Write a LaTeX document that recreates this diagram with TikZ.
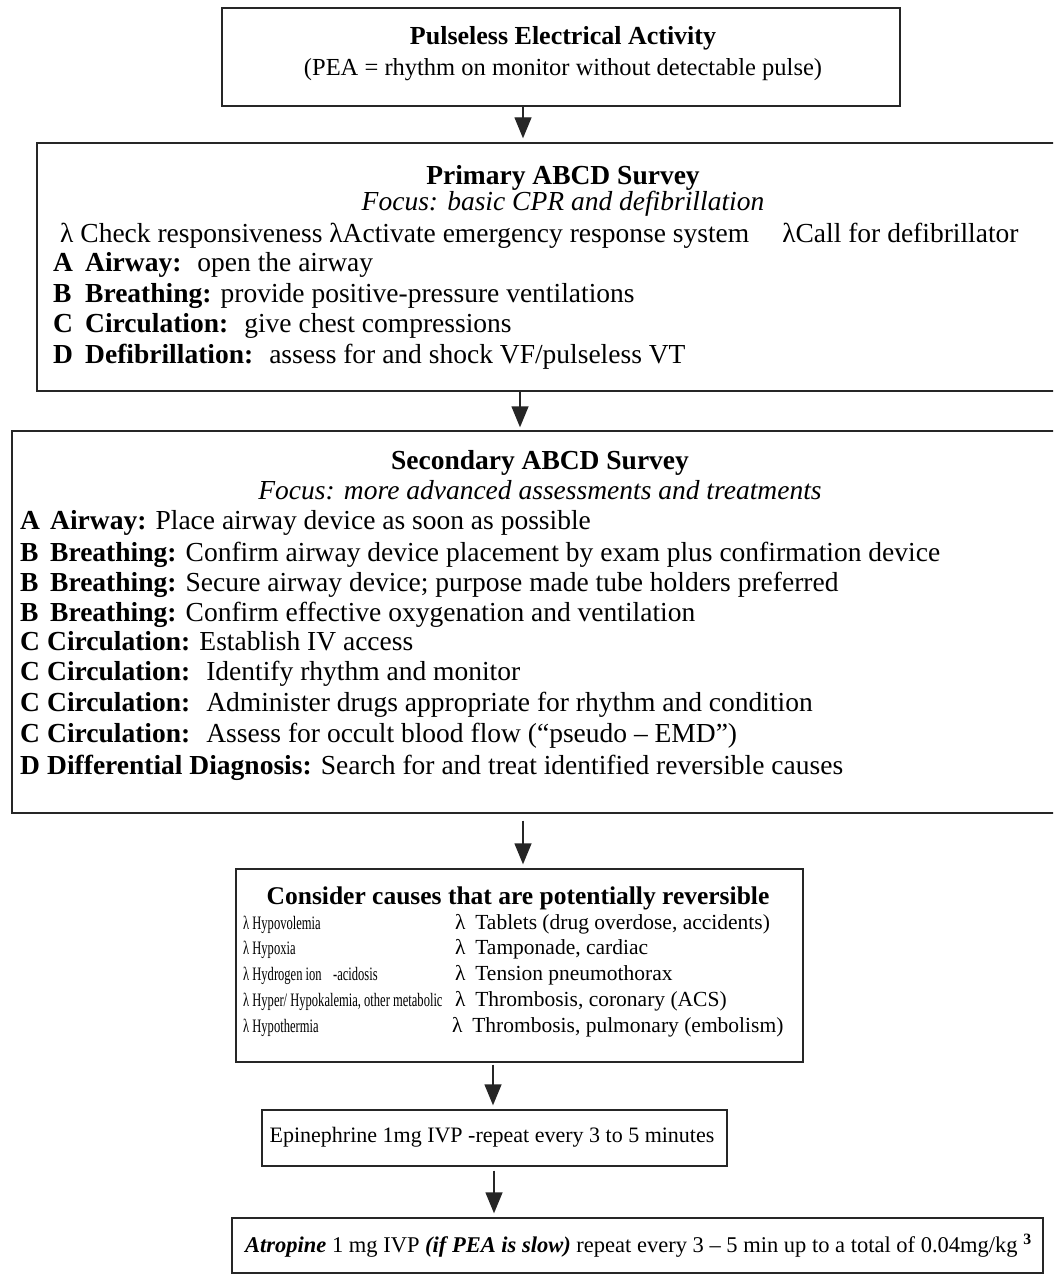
\documentclass[tikz,border=0pt]{standalone}
\usepackage{fontspec}
\setmainfont{Liberation Serif}
\newfontfamily\narrowrm[FakeStretch=0.66]{Liberation Serif}
\usetikzlibrary{arrows.meta}
\newcommand{\fsz}[1]{\fontsize{#1}{#1}\selectfont}
\begin{document}
\begin{tikzpicture}[x=1pt,y=-1pt,
  box/.style={draw=black!85, line width=1.4pt, inner sep=0pt, rectangle},
  txt/.style={inner sep=0pt, anchor=base west},
  ctxt/.style={inner sep=0pt, anchor=base},
  arr/.style={draw=black!85, line width=1.4pt, -{Triangle[width=17pt,length=21pt]}},
  big/.style={font=\fsz{27.5}},
  mid/.style={font=\fsz{24.5}},
  sml/.style={font=\fsz{21.5}},
  lcol/.style={font=\narrowrm\fsz{19}},
]
\useasboundingbox (0,0) rectangle (1053,1281);
\fill[white] (0,0) rectangle (1053,1281);
\clip (0,0) rectangle (1053,1281);

% boxes
\node[box, minimum width=678, minimum height=98] (b1) at (561,57) {};
\node[box, minimum width=1033, minimum height=248] (b2) at (553.5,267) {};
\node[box, minimum width=1058, minimum height=382] (b3) at (541,622) {};
\node[box, minimum width=567, minimum height=193] (b4) at (519.5,965.5) {};
\node[box, minimum width=465, minimum height=56] (b5) at (494.5,1138) {};
\node[box, minimum width=811, minimum height=55] (b6) at (637.5,1245.5) {};

% arrow x positions
\coordinate (a1) at (523,0);
\coordinate (a2) at (520,0);
\coordinate (a3) at (523,0);
\coordinate (a4) at (493,0);
\coordinate (a5) at (494,0);
\draw[arr, shorten >=4pt] (b1.south -| a1) -- (b2.north -| a1);
\draw[arr, shorten >=3pt] (b2.south -| a2) -- (b3.north -| a2);
\draw[arr, shorten <=7pt, shorten >=4pt] (b3.south -| a3) -- (b4.north -| a3);
\draw[arr, shorten <=2pt, shorten >=4pt] (b4.south -| a4) -- (b5.north -| a4);
\draw[arr, shorten <=4pt, shorten >=4pt] (b5.south -| a5) -- (b6.north -| a5);

% box 1
\node[ctxt, font=\fsz{26}] (t1a) at (563,45) {\bfseries Pulseless Electrical Activity};
\node[ctxt, mid] (t1b) at (563,76) {(PEA = rhythm on monitor without detectable pulse)};

% box 2
\node[ctxt, big] (t2a) at (563,185) {\bfseries Primary ABCD Survey};
\node[ctxt, big] (t2b) at (563,211) {\itshape Focus: basic CPR and defibrillation};
\node[txt, big] (t2c) at (60,243) {λ Check responsiveness λActivate emergency response system\hspace{1.2em}λCall for defibrillator};
\node[txt, big] (l2a) at (53,271) {\bfseries A};
\node[txt, big] (r2a) at (85,271) {\textbf{Airway:} \ open the airway};
\node[txt, big] (l2b) at (53,302) {\bfseries B};
\node[txt, big] (r2b) at (85,302) {\textbf{Breathing:} provide positive-pressure ventilations};
\node[txt, big] (l2c) at (53,332) {\bfseries C};
\node[txt, big] (r2c) at (85,332) {\textbf{Circulation:} \ give chest compressions};
\node[txt, big] (l2d) at (53,363) {\bfseries D};
\node[txt, big] (r2d) at (85,363) {\textbf{Defibrillation:} \ assess for and shock VF/pulseless VT};

% box 3
\node[ctxt, big] (t3a) at (540,469) {\bfseries Secondary ABCD Survey};
\node[ctxt, big] (t3b) at (540,499) {\itshape Focus: more advanced assessments and treatments};
\node[txt, big] (l3a) at (20,529) {\bfseries A};
\node[txt, big] (r3a) at (50,529) {\textbf{Airway:} Place airway device as soon as possible};
\node[txt, big] (l3b) at (20,561) {\bfseries B};
\node[txt, big] (r3b) at (50,561) {\textbf{Breathing:} Confirm airway device placement by exam plus confirmation device};
\node[txt, big] (l3c) at (20,591) {\bfseries B};
\node[txt, big] (r3c) at (50,591) {\textbf{Breathing:} Secure airway device; purpose made tube holders preferred};
\node[txt, big] (l3d) at (20,621) {\bfseries B};
\node[txt, big] (r3d) at (50,621) {\textbf{Breathing:} Confirm effective oxygenation and ventilation};
\node[txt, big] (l3e) at (20,650) {\bfseries C};
\node[txt, big] (r3e) at (47,650) {\textbf{Circulation:} Establish IV access};
\node[txt, big] (l3f) at (20,680) {\bfseries C};
\node[txt, big] (r3f) at (47,680) {\textbf{Circulation:} \ Identify rhythm and monitor};
\node[txt, big] (l3g) at (20,711) {\bfseries C};
\node[txt, big] (r3g) at (47,711) {\textbf{Circulation:} \ Administer drugs appropriate for rhythm and condition};
\node[txt, big] (l3h) at (20,742) {\bfseries C};
\node[txt, big] (r3h) at (47,742) {\textbf{Circulation:} \ Assess for occult blood flow (“pseudo – EMD”)};
\node[txt, big] (l3i) at (20,774) {\bfseries D};
\node[txt, big] (r3i) at (47,774) {\textbf{Differential Diagnosis:} Search for and treat identified reversible causes};

% box 4
\node[ctxt, font=\fsz{25.5}] (t4) at (518,904) {\bfseries Consider causes that are potentially reversible};
\node[txt, lcol] (c4a) at (243,929) {λ Hypovolemia};
\node[txt, lcol] (c4b) at (243,954) {λ Hypoxia};
\node[txt, lcol] (c4c) at (243,980) {λ Hydrogen ion\hspace{0.6em}-acidosis};
\node[txt, lcol] (c4d) at (243,1006) {λ Hyper/ Hypokalemia, other metabolic};
\node[txt, lcol] (c4e) at (243,1032) {λ Hypothermia};
\node[txt, sml] (d4a) at (455,929) {λ\hspace{0.45em}Tablets (drug overdose, accidents)};
\node[txt, sml] (d4b) at (455,954) {λ\hspace{0.45em}Tamponade, cardiac};
\node[txt, sml] (d4c) at (455,980) {λ\hspace{0.45em}Tension pneumothorax};
\node[txt, sml] (d4d) at (455,1006) {λ\hspace{0.45em}Thrombosis, coronary (ACS)};
\node[txt, sml] (d4e) at (452,1032) {λ\hspace{0.45em}Thrombosis, pulmonary (embolism)};

% box 5
\node[ctxt, font=\fsz{22}] (t5) at (492,1142) {Epinephrine 1mg IVP -repeat every 3 to 5 minutes};

% box 6
\node[txt, font=\fsz{22.5}] (t6) at (245,1252) {\textbf{\textit{Atropine}} 1 mg IVP \textbf{\textit{(if PEA is slow)}} repeat every 3 – 5 min up to a total of 0.04mg/kg \textsuperscript{\bfseries 3}};
\end{tikzpicture}
\end{document}
